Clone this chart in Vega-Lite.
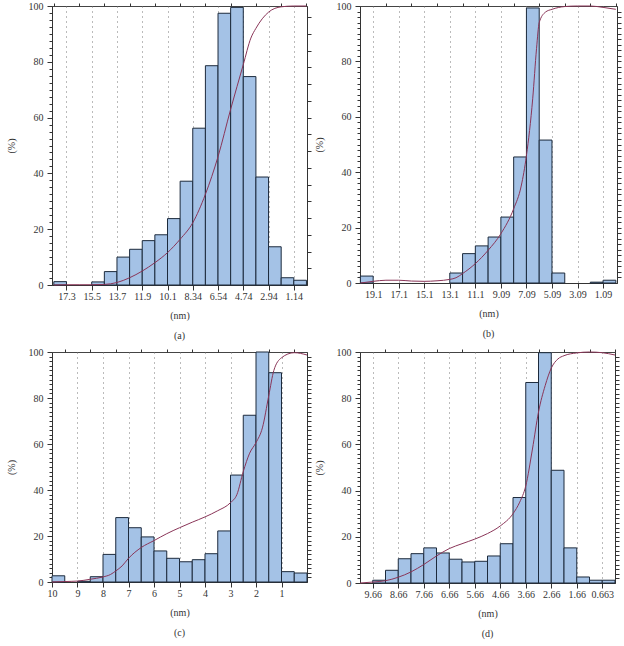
{
  "$schema": "https://vega.github.io/schema/vega-lite/v6.json",
  "padding": {"left": 5, "top": 0, "right": 0, "bottom": 0},
  "spacing": 4,
  "config": {
    "font": "Liberation Serif",
    "view": {"stroke": "#444", "strokeWidth": 1},
    "axis": {
      "labelFont": "Liberation Serif", "titleFont": "Liberation Serif",
      "labelFontSize": 10, "titleFontSize": 10, "titleFontWeight": "normal",
      "labelColor": "#333", "titleColor": "#333", "domainColor": "#333", "tickColor": "#333"
    },
    "title": {"font": "Liberation Serif", "fontSize": 10, "fontWeight": "normal", "color": "#333"},
    "text": {"font": "Liberation Serif"}
  },
  "datasets": {
    "a_bars": [
      {"start": 18.24, "end": 17.34, "value": 1.2},
      {"start": 15.54, "end": 14.64, "value": 1.1},
      {"start": 14.64, "end": 13.74, "value": 4.8},
      {"start": 13.74, "end": 12.84, "value": 10},
      {"start": 12.84, "end": 11.94, "value": 12.8},
      {"start": 11.94, "end": 11.04, "value": 15.9},
      {"start": 11.04, "end": 10.14, "value": 18},
      {"start": 10.14, "end": 9.24, "value": 23.8},
      {"start": 9.24, "end": 8.34, "value": 37.2},
      {"start": 8.34, "end": 7.44, "value": 56.2},
      {"start": 7.44, "end": 6.54, "value": 78.6},
      {"start": 6.54, "end": 5.64, "value": 97.4},
      {"start": 5.64, "end": 4.74, "value": 99.5},
      {"start": 4.74, "end": 3.84, "value": 74.7},
      {"start": 3.84, "end": 2.94, "value": 38.7},
      {"start": 2.94, "end": 2.04, "value": 13.7},
      {"start": 2.04, "end": 1.14, "value": 2.6},
      {"start": 1.14, "end": 0.24, "value": 1.7}
    ],
    "a_curve": [
      {"x": 18.24, "y": 0}, {"x": 17.34, "y": 0.1}, {"x": 16.44, "y": 0.1}, {"x": 15.54, "y": 0.1},
      {"x": 14.64, "y": 0.2}, {"x": 13.74, "y": 0.9}, {"x": 12.84, "y": 2.6}, {"x": 11.94, "y": 5},
      {"x": 11.04, "y": 8}, {"x": 10.14, "y": 11.6}, {"x": 9.24, "y": 16.4}, {"x": 8.34, "y": 22.3},
      {"x": 7.44, "y": 32.5}, {"x": 6.54, "y": 46}, {"x": 5.64, "y": 63}, {"x": 4.74, "y": 79},
      {"x": 4.2, "y": 88.5}, {"x": 3.84, "y": 92}, {"x": 2.94, "y": 97.8}, {"x": 2.04, "y": 99.7},
      {"x": 1.14, "y": 100}, {"x": 0.24, "y": 100}
    ],
    "b_bars": [
      {"start": 20.09, "end": 19.09, "value": 2.5},
      {"start": 13.09, "end": 12.09, "value": 3.6},
      {"start": 12.09, "end": 11.09, "value": 10.6},
      {"start": 11.09, "end": 10.09, "value": 13.4},
      {"start": 10.09, "end": 9.09, "value": 16.6},
      {"start": 9.09, "end": 8.09, "value": 23.8},
      {"start": 8.09, "end": 7.09, "value": 45.5},
      {"start": 7.09, "end": 6.09, "value": 99.3},
      {"start": 6.09, "end": 5.09, "value": 51.6},
      {"start": 5.09, "end": 4.09, "value": 3.6},
      {"start": 2.09, "end": 1.09, "value": 0.3},
      {"start": 1.09, "end": 0.09, "value": 1}
    ],
    "b_curve": [
      {"x": 20.09, "y": 0}, {"x": 19.09, "y": 0.6}, {"x": 18.09, "y": 1}, {"x": 17.09, "y": 1},
      {"x": 16.09, "y": 0.7}, {"x": 15.09, "y": 0.6}, {"x": 14.09, "y": 0.8}, {"x": 13.09, "y": 1.3},
      {"x": 12.6, "y": 1.9}, {"x": 12.09, "y": 3.4}, {"x": 11.09, "y": 7}, {"x": 10.09, "y": 11.8},
      {"x": 9.09, "y": 17.8}, {"x": 8.09, "y": 26.8}, {"x": 7.5, "y": 35}, {"x": 7.09, "y": 46},
      {"x": 6.6, "y": 66.5}, {"x": 6.3, "y": 84.6}, {"x": 6.09, "y": 94}, {"x": 5.6, "y": 97.8},
      {"x": 5.09, "y": 98.8}, {"x": 4.09, "y": 99.8}, {"x": 3.09, "y": 100}, {"x": 2.09, "y": 100},
      {"x": 1.09, "y": 99.5}, {"x": 0.09, "y": 98.8}
    ],
    "c_bars": [
      {"start": 10, "end": 9.5, "value": 2.7},
      {"start": 9, "end": 8.5, "value": 0.3},
      {"start": 8.5, "end": 8, "value": 2.3},
      {"start": 8, "end": 7.5, "value": 12},
      {"start": 7.5, "end": 7, "value": 28},
      {"start": 7, "end": 6.5, "value": 23.6},
      {"start": 6.5, "end": 6, "value": 19.6},
      {"start": 6, "end": 5.5, "value": 13.5},
      {"start": 5.5, "end": 5, "value": 10.3},
      {"start": 5, "end": 4.5, "value": 8.8},
      {"start": 4.5, "end": 4, "value": 9.7},
      {"start": 4, "end": 3.5, "value": 12.3},
      {"start": 3.5, "end": 3, "value": 22.2},
      {"start": 3, "end": 2.5, "value": 46.5},
      {"start": 2.5, "end": 2, "value": 72.5},
      {"start": 2, "end": 1.5, "value": 100},
      {"start": 1.5, "end": 1, "value": 91},
      {"start": 1, "end": 0.5, "value": 4.5},
      {"start": 0.5, "end": 0, "value": 3.9}
    ],
    "c_curve": [
      {"x": 10, "y": 0}, {"x": 9.5, "y": 0.2}, {"x": 9, "y": 0.4}, {"x": 8.5, "y": 1.2},
      {"x": 8, "y": 2.2}, {"x": 7.7, "y": 3.3}, {"x": 7.5, "y": 4.8}, {"x": 7.25, "y": 7},
      {"x": 7, "y": 10.3}, {"x": 6.5, "y": 15}, {"x": 6, "y": 18}, {"x": 5.5, "y": 21},
      {"x": 5, "y": 23.6}, {"x": 4.5, "y": 26}, {"x": 4, "y": 28.3}, {"x": 3.5, "y": 31},
      {"x": 3, "y": 34.5}, {"x": 2.75, "y": 38}, {"x": 2.5, "y": 48}, {"x": 2.25, "y": 56},
      {"x": 2, "y": 60.6}, {"x": 1.75, "y": 67}, {"x": 1.5, "y": 81}, {"x": 1.3, "y": 92},
      {"x": 1, "y": 97.5}, {"x": 0.5, "y": 99.7}, {"x": 0, "y": 98.7}
    ],
    "d_bars": [
      {"start": 9.663, "end": 9.163, "value": 1.2},
      {"start": 9.163, "end": 8.663, "value": 5.5},
      {"start": 8.663, "end": 8.163, "value": 10.5},
      {"start": 8.163, "end": 7.663, "value": 12.7},
      {"start": 7.663, "end": 7.163, "value": 15.2},
      {"start": 7.163, "end": 6.663, "value": 13},
      {"start": 6.663, "end": 6.163, "value": 10.3},
      {"start": 6.163, "end": 5.663, "value": 9.1},
      {"start": 5.663, "end": 5.163, "value": 9.4},
      {"start": 5.163, "end": 4.663, "value": 11.7},
      {"start": 4.663, "end": 4.163, "value": 17},
      {"start": 4.163, "end": 3.663, "value": 37},
      {"start": 3.663, "end": 3.163, "value": 86.8},
      {"start": 3.163, "end": 2.663, "value": 99.7},
      {"start": 2.663, "end": 2.163, "value": 48.8},
      {"start": 2.163, "end": 1.663, "value": 15.2},
      {"start": 1.663, "end": 1.163, "value": 2.6},
      {"start": 1.163, "end": 0.663, "value": 1.2},
      {"start": 0.663, "end": 0.163, "value": 1.2}
    ],
    "d_curve": [
      {"x": 10.163, "y": 0}, {"x": 9.663, "y": 0.4}, {"x": 9.163, "y": 1}, {"x": 8.663, "y": 2.5},
      {"x": 8.163, "y": 4.8}, {"x": 7.663, "y": 8}, {"x": 7.163, "y": 11.7}, {"x": 6.663, "y": 14.9},
      {"x": 6.163, "y": 17}, {"x": 5.663, "y": 19}, {"x": 5.163, "y": 21.4}, {"x": 4.663, "y": 24.7},
      {"x": 4.163, "y": 30}, {"x": 3.9, "y": 35}, {"x": 3.663, "y": 42}, {"x": 3.4, "y": 58},
      {"x": 3.163, "y": 74}, {"x": 2.9, "y": 85.5}, {"x": 2.663, "y": 93}, {"x": 2.4, "y": 97},
      {"x": 2.163, "y": 98.4}, {"x": 1.663, "y": 99.6}, {"x": 1.163, "y": 100}, {"x": 0.663, "y": 99.7},
      {"x": 0.163, "y": 98.7}
    ]
  },
  "vconcat": [
    {
      "spacing": 1,
      "hconcat": [
        {
          "width": 255, "height": 279,
          "title": {"text": "(a)", "orient": "bottom", "offset": 11},
          "resolve": {"axis": {"x": "independent", "y": "independent"}},
          "layer": [
            {
              "data": {"name": "a_bars"},
              "mark": {"type": "bar", "fill": "#a4c2e6", "stroke": "#1c2a3c", "strokeWidth": 1},
              "encoding": {
                "x": {"field": "start", "type": "quantitative",
                      "scale": {"domain": [0.2, 18.37], "reverse": true, "nice": false, "zero": false},
                      "axis": {"values": [17.34, 15.54, 13.74, 11.94, 10.14, 8.34, 6.54, 4.74, 2.94, 1.14], "format": ".3~g",
                               "grid": true, "gridDash": [1, 4], "gridColor": "#777", "tickSize": 5, "labelPadding": 1,
                               "title": "(nm)", "titlePadding": 9, "labelFlush": false}},
                "x2": {"field": "end"},
                "y": {"field": "value", "type": "quantitative",
                      "scale": {"domain": [0, 100], "nice": false},
                      "axis": {"values": [0, 20, 40, 60, 80, 100], "grid": false, "tickSize": 5, "labelPadding": 4,
                               "title": "(%)", "titlePadding": 12, "labelFlush": false}},
                "y2": {"datum": 0}
              }
            },
            {
              "data": {"name": "a_curve"},
              "mark": {"type": "line", "color": "#8a3558", "strokeWidth": 1, "interpolate": "monotone"},
              "encoding": {
                "x": {"field": "x", "type": "quantitative",
                      "axis": {"values": [18.24, 16.44, 14.64, 12.84, 11.04, 9.24, 7.44, 5.64, 3.84, 2.04, 0.24],
                               "labels": false, "grid": false, "domain": false, "tickSize": 3, "title": null}},
                "y": {"field": "y", "type": "quantitative",
                      "axis": {"orient": "right", "values": [6, 12, 18, 24, 30, 36, 42, 48, 54, 60, 66, 72, 78, 84, 90, 96],
                               "labels": false, "grid": false, "tickSize": 4, "title": null}}
              }
            },
            {
              "data": {"name": "a_bars"},
              "mark": {"type": "point", "opacity": 0},
              "encoding": {
                "x": {"field": "start", "type": "quantitative", "axis": null},
                "y": {"field": "value", "type": "quantitative",
                      "axis": {"values": [2.5, 5, 7.5, 10, 12.5, 15, 17.5, 22.5, 25, 27.5, 30, 32.5, 35, 37.5, 42.5, 45, 47.5, 50, 52.5, 55, 57.5, 62.5, 65, 67.5, 70, 72.5, 75, 77.5, 82.5, 85, 87.5, 90, 92.5, 95, 97.5],
                               "labels": false, "grid": false, "domain": false, "tickSize": 3, "title": null}}
              }
            }
          ]
        },
        {
          "width": 257, "height": 277,
          "title": {"text": "(b)", "orient": "bottom", "offset": 11},
          "resolve": {"axis": {"x": "independent", "y": "independent"}},
          "layer": [
            {
              "data": {"name": "b_bars"},
              "mark": {"type": "bar", "fill": "#a4c2e6", "stroke": "#1c2a3c", "strokeWidth": 1},
              "encoding": {
                "x": {"field": "start", "type": "quantitative",
                      "scale": {"domain": [0, 20.12], "reverse": true, "nice": false, "zero": false},
                      "axis": {"values": [19.09, 17.09, 15.09, 13.09, 11.09, 9.09, 7.09, 5.09, 3.09, 1.09], "format": ".3~g",
                               "grid": true, "gridDash": [1, 4], "gridColor": "#777", "tickSize": 5, "labelPadding": 1,
                               "title": "(nm)", "titlePadding": 9, "labelFlush": false}},
                "x2": {"field": "end"},
                "y": {"field": "value", "type": "quantitative",
                      "scale": {"domain": [0, 100], "nice": false},
                      "axis": {"values": [0, 20, 40, 60, 80, 100], "grid": false, "tickSize": 5, "labelPadding": 4,
                               "title": "(%)", "titlePadding": 12, "labelFlush": false}},
                "y2": {"datum": 0}
              }
            },
            {
              "data": {"name": "b_curve"},
              "mark": {"type": "line", "color": "#8a3558", "strokeWidth": 1, "interpolate": "monotone"},
              "encoding": {
                "x": {"field": "x", "type": "quantitative",
                      "axis": {"values": [18.09, 16.09, 14.09, 12.09, 10.09, 8.09, 6.09, 4.09, 2.09, 0.09],
                               "labels": false, "grid": false, "domain": false, "tickSize": 3, "title": null}},
                "y": {"field": "y", "type": "quantitative",
                      "axis": {"orient": "right", "values": [2,4,6,8,10,12,14,16,18,20,22,24,26,28,30,32,34,36,38,40,42,44,46,48,50,52,54,56,58,60,62,64,66,68,70,72,74,76,78,80,82,84,86,88,90,92,94,96,98],
                               "labels": false, "grid": false, "tickSize": 4, "title": null}}
              }
            },
            {
              "data": {"name": "b_bars"},
              "mark": {"type": "point", "opacity": 0},
              "encoding": {
                "x": {"field": "start", "type": "quantitative", "axis": null},
                "y": {"field": "value", "type": "quantitative",
                      "axis": {"values": [2,4,6,8,10,12,14,16,18,22,24,26,28,30,32,34,36,38,42,44,46,48,50,52,54,56,58,62,64,66,68,70,72,74,76,78,82,84,86,88,90,92,94,96,98],
                               "labels": false, "grid": false, "domain": false, "tickSize": 3, "title": null}}
              }
            }
          ]
        }
      ]
    },
    {
      "spacing": 1,
      "hconcat": [
        {
          "width": 255, "height": 230,
          "title": {"text": "(c)", "orient": "bottom", "offset": 11},
          "resolve": {"axis": {"x": "independent", "y": "independent"}},
          "layer": [
            {
              "data": {"name": "c_bars"},
              "mark": {"type": "bar", "fill": "#a4c2e6", "stroke": "#1c2a3c", "strokeWidth": 1},
              "encoding": {
                "x": {"field": "start", "type": "quantitative",
                      "scale": {"domain": [0, 10], "reverse": true, "nice": false, "zero": false},
                      "axis": {"values": [10, 9, 8, 7, 6, 5, 4, 3, 2, 1], "format": ".3~g",
                               "grid": true, "gridDash": [1, 4], "gridColor": "#777", "tickSize": 5, "labelPadding": 1,
                               "title": "(nm)", "titlePadding": 9, "labelFlush": false}},
                "x2": {"field": "end"},
                "y": {"field": "value", "type": "quantitative",
                      "scale": {"domain": [0, 100], "nice": false},
                      "axis": {"values": [0, 20, 40, 60, 80, 100], "grid": false, "tickSize": 5, "labelPadding": 4,
                               "title": "(%)", "titlePadding": 12, "labelFlush": false}},
                "y2": {"datum": 0}
              }
            },
            {
              "data": {"name": "c_curve"},
              "mark": {"type": "line", "color": "#8a3558", "strokeWidth": 1, "interpolate": "monotone"},
              "encoding": {
                "x": {"field": "x", "type": "quantitative",
                      "axis": {"values": [9.5, 8.5, 7.5, 6.5, 5.5, 4.5, 3.5, 2.5, 1.5, 0.5],
                               "labels": false, "grid": false, "domain": false, "tickSize": 3, "title": null}},
                "y": {"field": "y", "type": "quantitative",
                      "axis": {"orient": "right", "values": [2,4,6,8,10,12,14,16,18,20,22,24,26,28,30,32,34,36,38,40,42,44,46,48,50,52,54,56,58,60,62,64,66,68,70,72,74,76,78,80,82,84,86,88,90,92,94,96,98],
                               "labels": false, "grid": false, "tickSize": 4, "title": null}}
              }
            },
            {
              "data": {"name": "c_bars"},
              "mark": {"type": "point", "opacity": 0},
              "encoding": {
                "x": {"field": "start", "type": "quantitative", "axis": null},
                "y": {"field": "value", "type": "quantitative",
                      "axis": {"values": [2,4,6,8,10,12,14,16,18,22,24,26,28,30,32,34,36,38,42,44,46,48,50,52,54,56,58,62,64,66,68,70,72,74,76,78,82,84,86,88,90,92,94,96,98],
                               "labels": false, "grid": false, "domain": false, "tickSize": 3, "title": null}}
              }
            }
          ]
        },
        {
          "width": 255, "height": 231,
          "title": {"text": "(d)", "orient": "bottom", "offset": 11},
          "resolve": {"axis": {"x": "independent", "y": "independent"}},
          "layer": [
            {
              "data": {"name": "d_bars"},
              "mark": {"type": "bar", "fill": "#a4c2e6", "stroke": "#1c2a3c", "strokeWidth": 1},
              "encoding": {
                "x": {"field": "start", "type": "quantitative",
                      "scale": {"domain": [0.163, 10.163], "reverse": true, "nice": false, "zero": false},
                      "axis": {"values": [9.663, 8.663, 7.663, 6.663, 5.663, 4.663, 3.663, 2.663, 1.663, 0.663], "format": ".3~g",
                               "grid": true, "gridDash": [1, 4], "gridColor": "#777", "tickSize": 5, "labelPadding": 1,
                               "title": "(nm)", "titlePadding": 9, "labelFlush": false}},
                "x2": {"field": "end"},
                "y": {"field": "value", "type": "quantitative",
                      "scale": {"domain": [0, 100], "nice": false},
                      "axis": {"values": [0, 20, 40, 60, 80, 100], "grid": false, "tickSize": 5, "labelPadding": 4,
                               "title": "(%)", "titlePadding": 12, "labelFlush": false}},
                "y2": {"datum": 0}
              }
            },
            {
              "data": {"name": "d_curve"},
              "mark": {"type": "line", "color": "#8a3558", "strokeWidth": 1, "interpolate": "monotone"},
              "encoding": {
                "x": {"field": "x", "type": "quantitative",
                      "axis": {"values": [9.163, 8.163, 7.163, 6.163, 5.163, 4.163, 3.163, 2.163, 1.163, 0.163],
                               "labels": false, "grid": false, "domain": false, "tickSize": 3, "title": null}},
                "y": {"field": "y", "type": "quantitative",
                      "axis": {"orient": "right", "values": [2,4,6,8,10,12,14,16,18,20,22,24,26,28,30,32,34,36,38,40,42,44,46,48,50,52,54,56,58,60,62,64,66,68,70,72,74,76,78,80,82,84,86,88,90,92,94,96,98],
                               "labels": false, "grid": false, "tickSize": 4, "title": null}}
              }
            },
            {
              "data": {"name": "d_bars"},
              "mark": {"type": "point", "opacity": 0},
              "encoding": {
                "x": {"field": "start", "type": "quantitative", "axis": null},
                "y": {"field": "value", "type": "quantitative",
                      "axis": {"values": [2,4,6,8,10,12,14,16,18,22,24,26,28,30,32,34,36,38,42,44,46,48,50,52,54,56,58,62,64,66,68,70,72,74,76,78,82,84,86,88,90,92,94,96,98],
                               "labels": false, "grid": false, "domain": false, "tickSize": 3, "title": null}}
              }
            }
          ]
        }
      ]
    }
  ]
}
